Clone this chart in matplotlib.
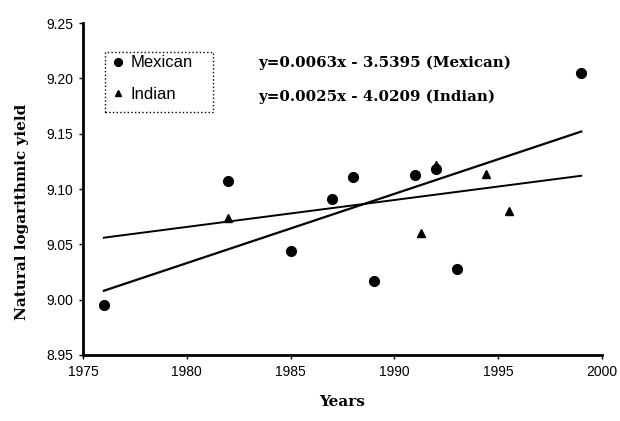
import numpy as np
import matplotlib.pyplot as plt
from matplotlib.patches import Rectangle

# data
mex_years = [1976, 1982, 1985, 1987, 1988, 1989, 1991, 1992, 1993, 1999]
mex_yield = [8.995, 9.107, 9.044, 9.091, 9.111, 9.017, 9.113, 9.118, 9.028, 9.205]

ind_years = [1982, 1991.3, 1992, 1994.4, 1995.5]
ind_yield = [9.074, 9.060, 9.122, 9.114, 9.080]

trend_years = [1976, 1999]
mex_trend = [9.008, 9.152]
ind_trend = [9.056, 9.112]

eq_mex = "y=0.0063x - 3.5395 (Mexican)"
eq_ind = "y=0.0025x - 4.0209 (Indian)"

sans = ['Liberation Sans', 'DejaVu Sans']
serif = ['DejaVu Serif']

fig = plt.figure(figsize=(6.2, 4.21), dpi=100)
ax = fig.add_axes([0.134, 0.157, 0.837, 0.788])

ax.plot(trend_years, mex_trend, color='black', lw=1.6)
ax.plot(trend_years, ind_trend, color='black', lw=1.4)
ax.plot(mex_years, mex_yield, 'o', color='black', ms=7, label='Mexican')
ax.plot(ind_years, ind_yield, '^', color='black', ms=6, label='Indian')

ax.set_xlim(1975, 2000)
ax.set_ylim(8.95, 9.25)
ax.set_xticks(np.arange(1975, 2001, 5))
ax.set_yticks(np.arange(8.95, 9.251, 0.05))
ax.set_yticklabels([f"{v:.2f}" for v in np.arange(8.95, 9.251, 0.05)])

for s in ['top', 'right']:
    ax.spines[s].set_visible(False)
ax.spines['left'].set_linewidth(2)
ax.spines['bottom'].set_linewidth(2)
ax.tick_params(length=3, width=1, labelsize=10, pad=4)
for lbl in ax.get_xticklabels() + ax.get_yticklabels():
    lbl.set_family(sans)

ax.set_xlabel('Years', family=serif, fontweight='bold', fontsize=11, labelpad=12)
ax.set_ylabel('Natural logarithmic yield', family=serif, fontweight='bold',
              fontsize=11, labelpad=8)
ax.yaxis.set_label_coords(-0.105, 0.43)

# legend without its own frame, dotted box drawn around it
leg = ax.legend(loc='upper left', bbox_to_anchor=(0.058, 0.903), frameon=False,
                prop={'family': sans, 'size': 12}, markerscale=0.8,
                handletextpad=0.42, handlelength=0.6, borderpad=0,
                borderaxespad=0, labelspacing=1.0)
ax.add_patch(Rectangle((0.042, 0.732), 0.208, 0.181, transform=ax.transAxes,
                       fill=False, ls=':', lw=1, ec='black'))

ax.text(0.337, 0.880, eq_mex, transform=ax.transAxes, family=serif,
        fontweight='bold', fontsize=10.8, va='center')
ax.text(0.337, 0.777, eq_ind, transform=ax.transAxes, family=serif,
        fontweight='bold', fontsize=10.8, va='center')

fig.savefig('out.png', dpi=100)
